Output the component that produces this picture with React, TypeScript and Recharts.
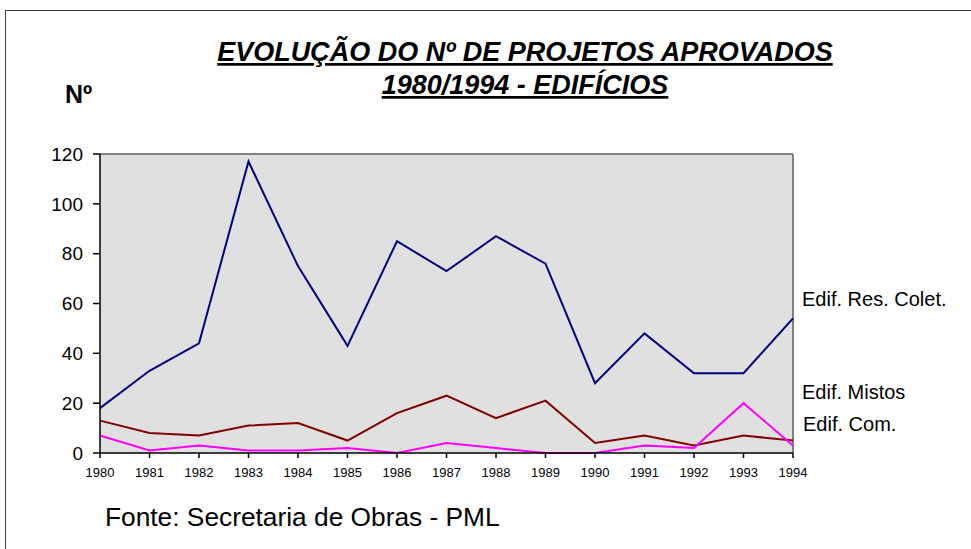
import React from 'react';
import { LineChart, Line, XAxis, YAxis, CartesianGrid, ReferenceLine } from 'recharts';

// values
const years = [1980, 1981, 1982, 1983, 1984, 1985, 1986, 1987, 1988, 1989, 1990, 1991, 1992, 1993, 1994];
const resColet = [18, 33, 44, 117, 75, 43, 85, 73, 87, 76, 28, 48, 32, 32, 54];
const mistos = [13, 8, 7, 11, 12, 5, 16, 23, 14, 21, 4, 7, 3, 7, 5];
const comerciais = [7, 1, 3, 1, 1, 2, 0, 4, 2, 0, 0, 3, 2, 20, 3];
const yTicks = [0, 20, 40, 60, 80, 100, 120];
const seriesLabels = ['Edif. Res. Colet.', 'Edif. Mistos', 'Edif. Com.'];

const FONT = '"Liberation Sans", Arial, sans-serif';

const data = years.map((year, i) => ({
  year,
  resColet: resColet[i],
  mistos: mistos[i],
  com: comerciais[i],
}));

const App: React.FC = () => {
  return (
    <div style={{ position: 'absolute', left: 0, top: 0, width: 971, height: 549, background: '#fff', fontFamily: FONT }}>
      {/* outer frame */}
      <div style={{ position: 'absolute', left: 5, top: 10, right: 0, bottom: 0, borderTop: '1.5px solid #404040', borderLeft: '1.5px solid #404040' }} />

      <LineChart
        width={971}
        height={549}
        data={data}
        margin={{ top: 154, right: 178, left: 0, bottom: 66 }}
        style={{ position: 'absolute', left: 0, top: 0 }}
      >
        <CartesianGrid fill="#e0e0e0" horizontal={false} vertical={false} />
        <ReferenceLine y={120} stroke="#808080" strokeWidth={2} />
        <ReferenceLine x={1994} stroke="#808080" strokeWidth={2} />
        <XAxis
          dataKey="year"
          type="number"
          domain={[1980, 1994]}
          ticks={years}
          interval={0}
          height={30}
          stroke="#000"
          strokeWidth={1.5}
          tickSize={5}
          tickMargin={10}
          tick={{ fontSize: 13, fill: '#000', fontFamily: FONT }}
        />
        <YAxis
          type="number"
          domain={[0, 120]}
          ticks={yTicks}
          interval={0}
          width={100}
          stroke="#000"
          strokeWidth={1.5}
          tickSize={7}
          tickMargin={10}
          tick={{ fontSize: 19, fill: '#000', fontFamily: FONT }}
        />
        <Line dataKey="resColet" stroke="#000080" strokeWidth={2} dot={false} isAnimationActive={false} />
        <Line dataKey="mistos" stroke="#800000" strokeWidth={2} dot={false} isAnimationActive={false} />
        <Line dataKey="com" stroke="#ff00ff" strokeWidth={2} dot={false} isAnimationActive={false} />
      </LineChart>

      <svg width={971} height={549} style={{ position: 'absolute', left: 0, top: 0, pointerEvents: 'none' }}>
        <g fontFamily={FONT} fill="#000">
          <text x={525} y={61} textAnchor="middle" fontSize={27} fontWeight="bold" fontStyle="italic" textDecoration="underline">
            EVOLUÇÃO DO Nº DE PROJETOS APROVADOS
          </text>
          <text x={525} y={94} textAnchor="middle" fontSize={27} fontWeight="bold" fontStyle="italic" textDecoration="underline">
            1980/1994 - EDIFÍCIOS
          </text>
          <text x={65} y={103} fontSize={25} fontWeight="bold">Nº</text>
          <text x={802} y={306} fontSize={20}>{seriesLabels[0]}</text>
          <text x={802} y={399} fontSize={20}>{seriesLabels[1]}</text>
          <text x={803} y={431} fontSize={20}>{seriesLabels[2]}</text>
          <text x={105} y={526} fontSize={26.3}>Fonte: Secretaria de Obras - PML</text>
        </g>
      </svg>
    </div>
  );
};

export default App;
